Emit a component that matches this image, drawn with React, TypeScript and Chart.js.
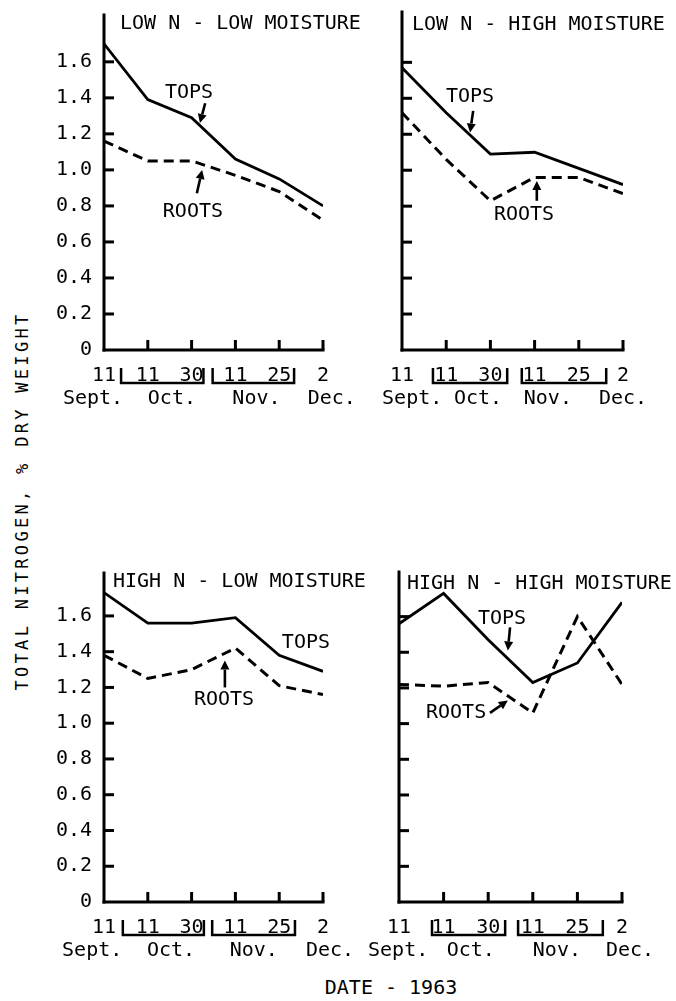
import React, { useEffect, useRef } from 'react';
import { Chart, registerables } from 'chart.js';
Chart.register(...registerables);

const FONT = "'DejaVu Sans Mono', monospace";

// ---- data ----
const X_INDEX = [0, 1, 2, 3, 4, 5];
const DAY_LABELS = ['11', '11', '30', '11', '25', '2'];
const MONTH_LABELS = ['Sept.', 'Oct.', 'Nov.', 'Dec.'];
const Y_TICKS = [0, 0.2, 0.4, 0.6, 0.8, 1.0, 1.2, 1.4, 1.6];
const PANEL_TITLES = [
  'LOW N - LOW MOISTURE',
  'LOW N - HIGH MOISTURE',
  'HIGH N - LOW MOISTURE',
  'HIGH N - HIGH MOISTURE',
];
const SERIES_NAMES = ['TOPS', 'ROOTS'];
const Y_TITLE = 'TOTAL NITROGEN, % DRY WEIGHT';
const X_TITLE = 'DATE - 1963';

const LNLM_TOPS = [1.70, 1.39, 1.29, 1.06, 0.95, 0.80];
const LNLM_ROOTS = [1.16, 1.05, 1.05, 0.97, 0.88, 0.72];
const LNHM_TOPS = [1.57, 1.32, 1.09, 1.10, 1.01, 0.92];
const LNHM_ROOTS = [1.32, 1.06, 0.83, 0.96, 0.96, 0.87];
const HNLM_TOPS = [1.73, 1.56, 1.56, 1.59, 1.38, 1.29];
const HNLM_ROOTS = [1.38, 1.25, 1.30, 1.42, 1.21, 1.16];
const HNHM_TOPS = [1.56, 1.73, 1.47, 1.23, 1.34, 1.68];
const HNHM_ROOTS = [1.22, 1.21, 1.23, 1.06, 1.60, 1.22];

// ---- layout (positions/styles only) ----
const PANELS = [
  {
    title: PANEL_TITLES[0], tops: LNLM_TOPS, roots: LNLM_ROOTS,
    left: 40, top: 0, w: 335, h: 420, yWidth: 64, padTop: 15, padRight: 52, xHeight: 70,
    yMax: 1.86, showY: true, titleDx: 16, titleDy: 9,
    monthPos: [-0.25, 1.55, 3.48, 5.2], brackets: [[0.39, 2.27], [2.48, 4.34]],
    notes: [
      { s: 0, x: 1.94, y: 1.43, arrow: [2.31, 1.37, 2.19, 1.26] },
      { s: 1, x: 2.03, y: 0.77, arrow: [2.12, 0.87, 2.24, 1.0] },
    ],
  },
  {
    title: PANEL_TITLES[1], tops: LNHM_TOPS, roots: LNHM_ROOTS,
    left: 375, top: 0, w: 301, h: 420, yWidth: 27, padTop: 12, padRight: 53, xHeight: 70,
    yMax: 1.88, showY: false, titleDx: 10, titleDy: 13,
    monthPos: [0.23, 1.72, 3.3, 5.0], brackets: [[0.7, 2.38], [2.71, 4.62]],
    notes: [
      { s: 0, x: 1.54, y: 1.41, arrow: [1.61, 1.33, 1.54, 1.21] },
      { s: 1, x: 2.76, y: 0.75, arrow: [3.05, 0.83, 3.05, 0.94] },
    ],
  },
  {
    title: PANEL_TITLES[2], tops: HNLM_TOPS, roots: HNLM_ROOTS,
    left: 40, top: 540, w: 335, h: 432, yWidth: 64, padTop: 33, padRight: 52, xHeight: 70,
    yMax: 1.84, showY: true, titleDx: 9, titleDy: 9,
    monthPos: [-0.27, 1.53, 3.42, 5.16], brackets: [[0.43, 2.28], [2.47, 4.36]],
    notes: [
      { s: 0, x: 4.61, y: 1.45, arrow: null },
      { s: 1, x: 2.74, y: 1.13, arrow: [2.76, 1.2, 2.76, 1.35] },
    ],
  },
  {
    title: PANEL_TITLES[3], tops: HNHM_TOPS, roots: HNHM_ROOTS,
    left: 360, top: 540, w: 316, h: 432, yWidth: 39, padTop: 32, padRight: 54, xHeight: 70,
    yMax: 1.85, showY: false, titleDx: 8, titleDy: 12,
    monthPos: [-0.02, 1.61, 3.54, 5.18], brackets: [[0.74, 2.38], [2.67, 4.57]],
    notes: [
      { s: 0, x: 2.31, y: 1.59, arrow: [2.49, 1.54, 2.44, 1.41] },
      { s: 1, x: 1.28, y: 1.06, arrow: [2.04, 1.06, 2.44, 1.13] },
    ],
  },
];

function Panel({ cfg }: { cfg: any }) {
  const ref = useRef<HTMLCanvasElement | null>(null);
  useEffect(() => {
    const canvas = ref.current!;
    const toPts = (arr: number[]) => arr.map((v, i) => ({ x: X_INDEX[i], y: v }));
    const decor = {
      id: 'decor',
      afterDraw(chart: any) {
        const { ctx, chartArea: a, scales } = chart;
        const xs = scales.x;
        const ys = scales.y;
        const seg = (x1: number, y1: number, x2: number, y2: number) => {
          ctx.beginPath();
          ctx.moveTo(x1, y1);
          ctx.lineTo(x2, y2);
          ctx.stroke();
        };
        ctx.save();
        ctx.strokeStyle = '#000';
        ctx.fillStyle = '#000';
        ctx.lineWidth = 3;
        ctx.lineCap = 'square';
        // axes
        seg(a.left, a.top, a.left, a.bottom);
        seg(a.left, a.bottom, a.right, a.bottom);
        ctx.lineCap = 'butt';
        for (const v of Y_TICKS) {
          if (v === 0) continue;
          const py = ys.getPixelForValue(v);
          seg(a.left, py, a.left + 10, py);
        }
        for (const i of X_INDEX) {
          if (i === 0) continue;
          const px = xs.getPixelForValue(i);
          seg(px, a.bottom, px, a.bottom - 10);
        }
        // title
        ctx.font = `20px ${FONT}`;
        ctx.textBaseline = 'middle';
        ctx.textAlign = 'left';
        ctx.fillText(cfg.title, a.left + cfg.titleDx, a.top + cfg.titleDy);
        // months
        ctx.textAlign = 'center';
        cfg.monthPos.forEach((p: number, k: number) => {
          ctx.fillText(MONTH_LABELS[k], xs.getPixelForValue(p), a.bottom + 49);
        });
        // brackets
        ctx.lineWidth = 2.5;
        cfg.brackets.forEach(([s, e]: number[]) => {
          const x1 = xs.getPixelForValue(s);
          const x2 = xs.getPixelForValue(e);
          const yT = a.bottom + 18;
          const yB = a.bottom + 33;
          ctx.beginPath();
          ctx.moveTo(x1, yT);
          ctx.lineTo(x1, yB);
          ctx.lineTo(x2, yB);
          ctx.lineTo(x2, yT);
          ctx.stroke();
        });
        // annotations
        cfg.notes.forEach((n: any) => {
          ctx.fillText(SERIES_NAMES[n.s], xs.getPixelForValue(n.x), ys.getPixelForValue(n.y));
          if (n.arrow) {
            const [ax1, ay1, ax2, ay2] = n.arrow;
            const x1 = xs.getPixelForValue(ax1);
            const y1 = ys.getPixelForValue(ay1);
            const x2 = xs.getPixelForValue(ax2);
            const y2 = ys.getPixelForValue(ay2);
            const ang = Math.atan2(y2 - y1, x2 - x1);
            const hl = 9;
            const hw = 4.5;
            const bx = x2 - hl * Math.cos(ang);
            const by = y2 - hl * Math.sin(ang);
            ctx.lineWidth = 2.6;
            seg(x1, y1, bx, by);
            ctx.beginPath();
            ctx.moveTo(x2, y2);
            ctx.lineTo(bx + hw * Math.sin(ang), by - hw * Math.cos(ang));
            ctx.lineTo(bx - hw * Math.sin(ang), by + hw * Math.cos(ang));
            ctx.closePath();
            ctx.fill();
          }
        });
        ctx.restore();
      },
    };
    const chart = new Chart(canvas, {
      type: 'line',
      data: {
        datasets: [
          {
            label: SERIES_NAMES[0],
            data: toPts(cfg.tops),
            borderColor: '#000',
            borderWidth: 2.8,
            pointRadius: 0,
            fill: false,
            tension: 0,
          },
          {
            label: SERIES_NAMES[1],
            data: toPts(cfg.roots),
            borderColor: '#000',
            borderWidth: 3,
            borderDash: [10, 6],
            pointRadius: 0,
            fill: false,
            tension: 0,
          },
        ],
      },
      options: {
        responsive: false,
        animation: false,
        events: [],
        layout: { padding: { top: cfg.padTop, right: cfg.padRight, left: 0, bottom: 0 } },
        plugins: { legend: { display: false }, tooltip: { enabled: false }, title: { display: false } },
        scales: {
          x: {
            type: 'linear',
            min: 0,
            max: 5,
            afterBuildTicks: (s: any) => { s.ticks = X_INDEX.map((v) => ({ value: v })); },
            afterFit: (s: any) => {
              s.height = cfg.xHeight;
              s.paddingLeft = 0;
              s.paddingRight = 0;
            },
            grid: { display: false, drawTicks: false },
            border: { display: false },
            ticks: {
              font: { family: FONT, size: 20 },
              color: '#000',
              padding: 14,
              maxRotation: 0,
              autoSkip: false,
              callback: (_v: any, i: number) => DAY_LABELS[i],
            },
          },
          y: {
            min: 0,
            max: cfg.yMax,
            afterBuildTicks: (s: any) => { s.ticks = Y_TICKS.map((v) => ({ value: v })); },
            afterFit: (s: any) => {
              s.width = cfg.yWidth;
              s.paddingTop = 0;
              s.paddingBottom = 0;
            },
            grid: { display: false, drawTicks: false },
            border: { display: false },
            ticks: {
              display: cfg.showY,
              font: { family: FONT, size: 20 },
              color: '#000',
              padding: 12,
              callback: (v: any) => (v === 0 ? '0' : Number(v).toFixed(1)),
            },
          },
        },
      },
      plugins: [decor],
    } as any);
    return () => chart.destroy();
  }, []);
  return (
    <canvas
      ref={ref}
      width={cfg.w}
      height={cfg.h}
      style={{ position: 'absolute', left: cfg.left, top: cfg.top, width: cfg.w, height: cfg.h }}
    />
  );
}

export default function App() {
  return (
    <div style={{ position: 'absolute', left: 0, top: 0, width: 676, height: 1001, background: '#fff', overflow: 'hidden' }}>
      {PANELS.map((p, i) => (
        <Panel key={i} cfg={p} />
      ))}
      <div
        style={{
          position: 'absolute',
          left: 22,
          top: 501,
          transform: 'translate(-50%, -50%) rotate(-90deg)',
          whiteSpace: 'nowrap',
          fontFamily: FONT,
          fontSize: 17,
          letterSpacing: '3.3px',
          color: '#000',
          lineHeight: 1,
        }}
      >
        {Y_TITLE}
      </div>
      <div
        style={{
          position: 'absolute',
          left: 391,
          top: 987,
          transform: 'translate(-50%, -50%)',
          whiteSpace: 'nowrap',
          fontFamily: FONT,
          fontSize: 20,
          color: '#000',
          lineHeight: 1,
        }}
      >
        {X_TITLE}
      </div>
    </div>
  );
}
